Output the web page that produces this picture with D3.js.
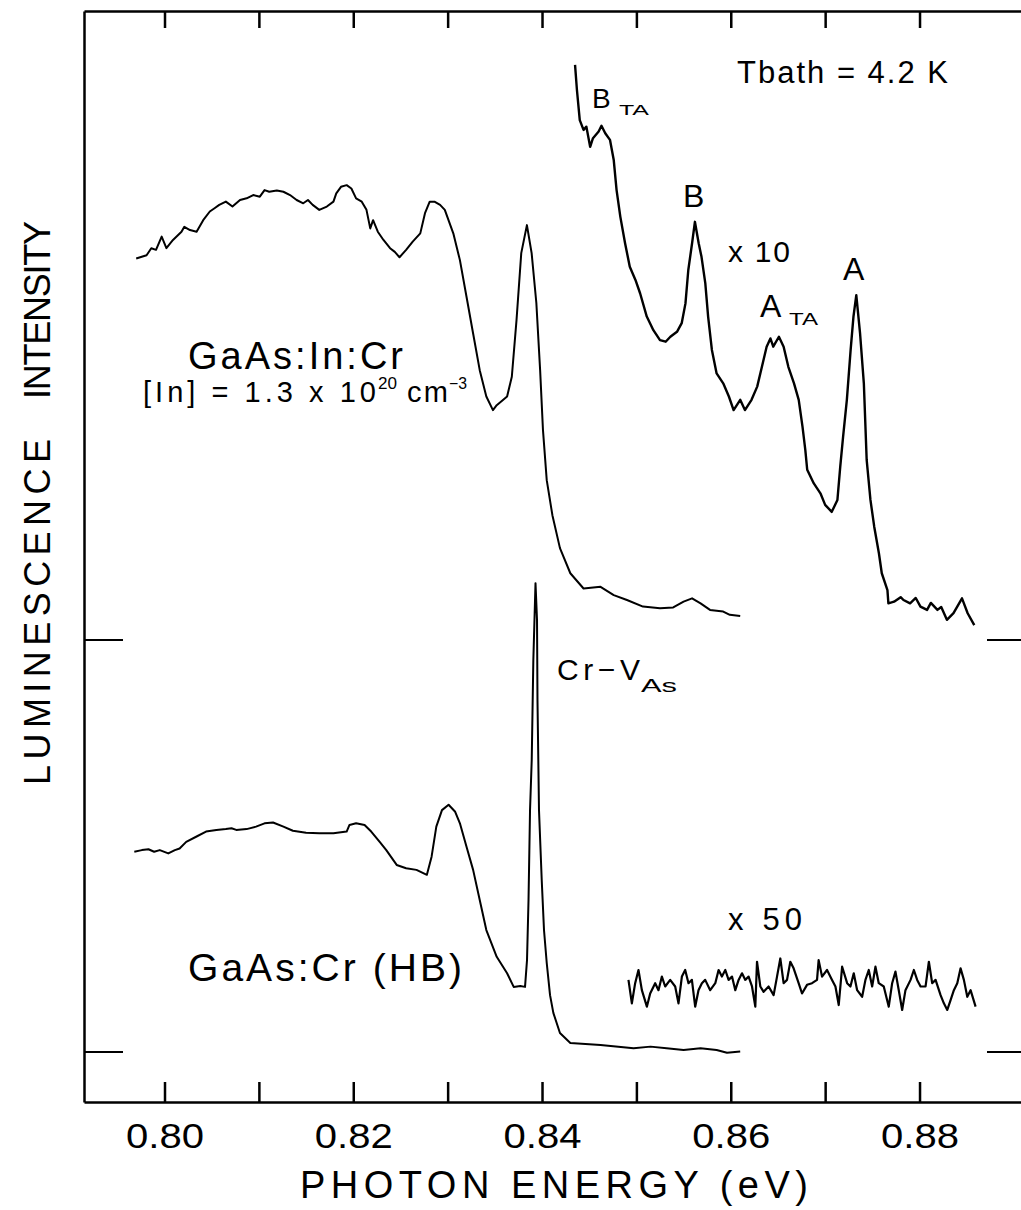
<!DOCTYPE html>
<html><head><meta charset="utf-8">
<script src="https://cdn.jsdelivr.net/npm/d3@7"></script>
<style>body{margin:0;background:#fff} svg{display:block;font-family:"Liberation Sans",Arial,sans-serif}</style>
</head><body>
<svg id="c" width="1021" height="1210"></svg>
<script>
// ---------------- data (photon energy in eV, intensity in arb. units) ----------------
const xTicks = [0.80,0.81,0.82,0.83,0.84,0.85,0.86,0.87,0.88];
const xTickLabels = ["0.80","","0.82","","0.84","","0.86","","0.88"];

// GaAs:In:Cr, x1 (plotted on upper baseline)
const inCrEnergy = [0.7970,0.7981,0.7986,0.7991,0.7997,0.8002,0.8009,0.8018,0.8021,0.8027,0.8034,0.8041,0.8048,0.8053,0.8058,0.8065,0.8072,0.8080,0.8087,0.8094,0.8101,0.8106,0.8111,0.8119,0.8126,0.8133,0.8140,0.8147,0.8152,0.8157,0.8164,0.8172,0.8179,0.8182,0.8187,0.8193,0.8198,0.8203,0.8209,0.8214,0.8218,0.8221,0.8226,0.8232,0.8239,0.8244,0.8249,0.8256,0.8263,0.8271,0.8276,0.8281,0.8286,0.8292,0.8297,0.8306,0.8313,0.8320,0.8327,0.8334,0.8341,0.8348,0.8352,0.8363,0.8368,0.8373,0.8378,0.8384,0.8389,0.8394,0.8398,0.8401,0.8405,0.8411,0.8419,0.8430,0.8444,0.8462,0.8476,0.8490,0.8507,0.8525,0.8539,0.8550,0.8559,0.8568,0.8578,0.8592,0.8599,0.8610];
const inCrIntensity = [92.6,93.4,95.1,94.7,97.9,95.1,97.1,99.1,100.3,99.5,99.1,101.9,104.0,104.8,105.6,106.4,105.2,106.8,107.2,108.0,107.6,109.2,108.8,109.1,108.8,108.0,106.8,106.0,106.8,105.6,104.4,105.2,106.4,108.4,110.0,110.4,109.6,107.2,106.4,104.4,99.9,101.9,99.1,97.1,95.1,94.2,92.9,94.7,96.7,98.7,103.6,106.4,106.4,105.6,104.4,98.7,92.2,83.3,74.4,65.5,59.1,55.8,57.0,59.1,63.9,77.7,93.9,100.7,93.9,81.8,65.5,51.0,38.8,30.3,22.3,16.2,12.5,12.9,10.9,9.7,8.1,7.7,7.9,9.3,10.1,8.9,7.3,6.9,6.1,5.8];

// GaAs:In:Cr, x10 trace (values as plotted)
const inCrX10Energy = [0.8435,0.8437,0.8440,0.8444,0.8447,0.8451,0.8454,0.8460,0.8463,0.8467,0.8472,0.8476,0.8479,0.8483,0.8488,0.8493,0.8499,0.8504,0.8511,0.8518,0.8525,0.8531,0.8536,0.8543,0.8548,0.8552,0.8555,0.8559,0.8562,0.8566,0.8569,0.8573,0.8576,0.8580,0.8585,0.8592,0.8598,0.8603,0.8610,0.8615,0.8622,0.8628,0.8633,0.8638,0.8642,0.8645,0.8651,0.8656,0.8661,0.8667,0.8672,0.8676,0.8679,0.8681,0.8688,0.8695,0.8700,0.8707,0.8713,0.8716,0.8719,0.8723,0.8727,0.8730,0.8733,0.8737,0.8741,0.8744,0.8748,0.8752,0.8757,0.8760,0.8766,0.8767,0.8773,0.8780,0.8783,0.8790,0.8796,0.8801,0.8808,0.8812,0.8819,0.8823,0.8829,0.8836,0.8845,0.8851,0.8858];
const inCrX10Intensity = [139.6,133.5,126.2,123.8,124.6,119.7,121.8,123.4,124.8,123.0,121.4,116.5,109.2,102.7,96.3,90.6,87.4,84.1,78.5,75.2,72.8,72.4,73.6,74.8,76.9,81.7,89.8,96.3,101.5,96.3,93.0,86.6,78.5,70.4,64.7,62.3,59.1,55.8,58.3,55.8,58.3,61.5,66.3,71.2,73.2,71.2,73.6,71.2,66.3,62.3,58.3,51.8,46.1,41.3,38.0,35.6,32.8,31.1,34.0,42.1,49.3,58.3,70.4,78.5,83.7,74.4,62.3,43.7,34.0,27.5,21.0,16.2,12.1,8.9,9.3,10.4,9.7,8.9,10.2,8.1,7.3,9.0,7.3,8.0,4.9,6.5,10.1,6.5,3.6];

// GaAs:Cr (HB), x1 (lower baseline)
const hbEnergy = [0.7968,0.7976,0.7983,0.7989,0.7995,0.8004,0.8011,0.8016,0.8023,0.8034,0.8044,0.8055,0.8065,0.8071,0.8076,0.8087,0.8097,0.8106,0.8115,0.8126,0.8136,0.8150,0.8164,0.8179,0.8193,0.8196,0.8203,0.8212,0.8219,0.8228,0.8235,0.8246,0.8256,0.8267,0.8278,0.8283,0.8288,0.8294,0.8301,0.8308,0.8313,0.8320,0.8327,0.8334,0.8341,0.8352,0.8363,0.8370,0.8377,0.8382,0.83841,0.83857,0.83873,0.83891,0.83908,0.83931,0.83947,0.83952,0.83968,0.83997,0.84021,0.84050,0.84085,0.84120,0.8419,0.8430,0.8462,0.8497,0.8515,0.8532,0.8550,0.8568,0.8585,0.8596,0.8610];
const hbIntensity = [48.6,49.0,49.2,48.6,49.0,48.2,49.0,49.4,51.0,52.3,53.5,53.9,54.1,54.3,53.9,54.1,54.7,55.5,55.7,54.7,53.7,53.2,53.1,53.1,53.5,55.1,55.5,55.1,53.5,51.0,49.0,45.4,44.6,44.2,43.0,47.4,54.7,58.7,60.0,58.3,55.5,49.8,44.2,36.9,29.6,23.1,19.1,15.8,16.0,15.8,22.3,36.9,58.7,70.9,95.1,113.8,104.9,85.4,58.7,41.7,29.6,21.6,13.8,9.5,4.6,2.2,1.7,0.9,1.3,0.9,0.5,0.9,0.5,-0.2,0.1];

// GaAs:Cr (HB), x50 trace (values as plotted)
const hbX50Energy = [0.84916,0.84952,0.84987,0.85022,0.85058,0.85111,0.85146,0.85199,0.85234,0.85270,0.85305,0.85358,0.85411,0.85446,0.85482,0.85517,0.85552,0.85588,0.85623,0.85658,0.85694,0.85729,0.85782,0.85836,0.85871,0.85906,0.85942,0.85977,0.86013,0.86048,0.86083,0.86119,0.86154,0.86189,0.86225,0.86260,0.86278,0.86313,0.86348,0.86401,0.86454,0.86490,0.86525,0.86560,0.86596,0.86631,0.86666,0.86719,0.86755,0.86808,0.86861,0.86914,0.86931,0.86967,0.87020,0.87073,0.87109,0.87144,0.87180,0.87233,0.87268,0.87303,0.87339,0.87392,0.87427,0.87462,0.87498,0.87533,0.87568,0.87621,0.87674,0.87710,0.87745,0.87780,0.87816,0.87851,0.87905,0.87940,0.87975,0.88011,0.88064,0.88099,0.88134,0.88170,0.88223,0.88258,0.88294,0.88329,0.88364,0.88400,0.88435,0.88470,0.88506,0.88541,0.88594];
const hbX50Intensity = [17.5,11.8,16.7,19.9,15.0,11.0,14.2,16.7,15.0,18.3,15.9,17.5,15.9,11.8,18.3,19.9,16.7,17.5,11.0,15.0,16.7,17.5,15.0,16.7,19.9,18.3,19.9,17.5,18.3,15.0,17.5,19.1,17.5,18.3,15.9,11.0,21.9,15.9,14.6,15.9,13.8,18.3,22.7,16.7,17.5,21.9,20.3,16.7,14.2,16.3,16.7,17.5,22.3,18.3,19.9,17.5,15.9,11.4,20.7,16.7,15.9,19.1,15.0,13.4,17.5,19.9,15.9,20.7,16.7,15.9,11.0,16.7,19.5,15.0,10.2,15.0,17.5,19.9,17.5,15.9,15.9,21.9,16.7,17.5,13.8,11.8,10.2,12.6,15.0,16.7,20.3,17.5,13.4,15.0,11.0];

// vertical offsets of the two spectra (baselines)
const baselineOffsets = [100, 0];

// ---------------- drawing ----------------
const svg = d3.select("#c");
const x = d3.scaleLinear().domain([0.79147, 0.8925]).range([84, 1037.5]);
const y = d3.scaleLinear().domain([-12.14, 252.67]).range([1102, 11]);

const series = [
  {e: inCrEnergy, v: inCrIntensity, off: baselineOffsets[0], w: 2},
  {e: inCrX10Energy, v: inCrX10Intensity, off: baselineOffsets[0], w: 2.4},
  {e: hbEnergy, v: hbIntensity, off: baselineOffsets[1], w: 2},
  {e: hbX50Energy, v: hbX50Intensity, off: baselineOffsets[1], w: 2.2}
];
const line = d3.line().x(d => x(d[0])).y(d => y(d[1]));
series.forEach(s => {
  const pts = s.e.map((e, i) => [e, s.v[i] + s.off]);
  svg.append("path").attr("d", line(pts)).attr("fill", "none")
    .attr("stroke", "#000").attr("stroke-width", s.w).attr("stroke-linejoin", "round");
});

// axes
const gB = svg.append("g").attr("transform", "translate(0,1102)")
  .call(d3.axisBottom(x).tickValues(xTicks).tickSizeInner(-20).tickSizeOuter(0)
    .tickFormat((d, i) => xTickLabels[i]));
gB.selectAll("text").attr("y", 46).attr("dy", 0).attr("font-size", 35)
  .attr("font-family", "Liberation Sans, Arial, sans-serif").attr("fill", "#000")
  .each(function(){ if (this.textContent) d3.select(this).attr("textLength", 78).attr("lengthAdjust", "spacingAndGlyphs"); });
const gT = svg.append("g").attr("transform", "translate(0,11)")
  .call(d3.axisTop(x).tickValues(xTicks).tickSizeInner(-17).tickSizeOuter(0).tickFormat(() => ""));
const gL = svg.append("g").attr("transform", "translate(84,0)")
  .call(d3.axisLeft(y).tickValues([]).tickSizeOuter(0));
[gB, gT, gL].forEach(g => {
  g.select(".domain").attr("stroke", "#000").attr("stroke-width", 2.5);
  g.selectAll(".tick line").attr("stroke", "#000").attr("stroke-width", 2.5);
});

// baseline markers on both sides
baselineOffsets.forEach(o => {
  svg.append("line").attr("x1", 84).attr("x2", 123).attr("y1", y(o)).attr("y2", y(o))
    .attr("stroke", "#000").attr("stroke-width", 2);
  svg.append("line").attr("x1", 987).attr("x2", 1021).attr("y1", y(o)).attr("y2", y(o))
    .attr("stroke", "#000").attr("stroke-width", 2);
});

// text helper
function txt(str, px, py, size, len, anchor, rot, adj) {
  const t = svg.append("text").attr("font-size", size).attr("fill", "#000")
    .attr("text-anchor", anchor || "start").text(str);
  if (rot) t.attr("transform", `translate(${px},${py}) rotate(${rot})`);
  else t.attr("x", px).attr("y", py);
  if (len) t.attr("textLength", len).attr("lengthAdjust", adj || "spacing");
  return t;
}

// axis titles
txt("PHOTON ENERGY (eV)", 554, 1198, 38, 508, "middle");
txt("INTENSITY", 50, 310, 36, 178, "middle", -90);
txt("LUMINESCENCE", 50, 612, 36, 346, "middle", -90);

// annotations
txt("Tbath = 4.2 K", 737, 83, 31, 211);
txt("B", 592, 108, 28, 21);
txt("TA", 619, 115, 15, 30, null, null, "spacingAndGlyphs");
txt("B", 683, 207, 32, 22);
txt("x 10", 728, 262, 30, 62);
txt("A", 843, 280, 32, 22);
txt("A", 760, 317, 32, 22);
txt("TA", 789, 325, 16, 29, null, null, "spacingAndGlyphs");
txt("GaAs:In:Cr", 188, 369, 38, 215);
txt("[In] = 1.3 x 10", 143, 402, 29, 233);
txt("20", 378, 389, 16, 19, null, null, "spacingAndGlyphs");
txt("cm", 407, 402, 29, 41);
txt("\u22123", 449, 389, 16, 18, null, null, "spacingAndGlyphs");
txt("Cr\u2212V", 557, 680, 30, 83);
txt("As", 641, 692, 19, 36, null, null, "spacingAndGlyphs");
txt("GaAs:Cr (HB)", 188, 981, 39, 274);
txt("x 50", 728, 930, 31, 74);
</script>
</body></html>
